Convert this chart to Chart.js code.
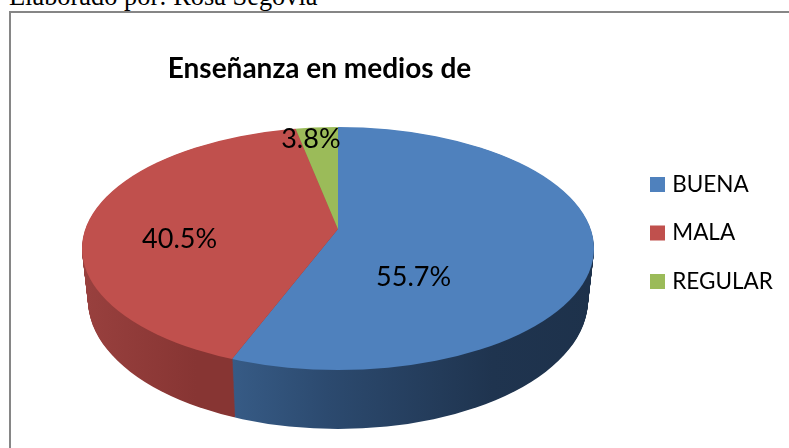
<!DOCTYPE html>
<html lang="es">
<head>
<meta charset="utf-8">
<title>Enseñanza en medios de</title>
<style>
html,body{margin:0;padding:0;background:#fff;width:789px;height:448px;overflow:hidden}
#cap{position:absolute;left:9px;top:-19px;font:26.4px "Liberation Serif",serif;color:#000;white-space:nowrap;line-height:30px}
#frame{position:absolute;left:9px;top:11px;width:780px;height:437px;border-top:2px solid #868686;border-left:2px solid #868686;box-sizing:border-box}
canvas{position:absolute;left:0;top:0}
</style>
<script src="https://cdn.jsdelivr.net/npm/chart.js@4"></script>
</head>
<body>
<div id="cap">Elaborado por: Rosa Segovia</div>
<div id="frame"></div>
<canvas id="c" width="789" height="448"></canvas>
<script>
const categories = ['BUENA', 'MALA', 'REGULAR'];
const percentages = [55.7, 40.5, 3.8];
const sliceColors = ['#4f81bd', '#c0504d', '#9bbb59'];
const chartTitle = 'Enseñanza en medios de';

const labelRadius = [0.3, 0.62, 0.89];
const labelNudge = [[0, 41], [0, 14], [0, 0]];
const FONT = 'Lato';

const sideFill = [
  [[233, '#3b628f'], [330, '#2c4a6f'], [450, '#1f344f'], [594, '#1c2f47']],
  [[82, '#a84a48'], [235, '#873533']],
  [[270, '#7a9446'], [340, '#7a9446']]
];

function withFill(arc, fill, fn) {
  const saved = arc.options;
  arc.options = Object.assign({}, saved, {backgroundColor: fill, borderWidth: 0});
  fn();
  arc.options = saved;
}

const pie3d = {
  id: 'pie3d',
  afterLayout(chart) {
    const t = chart.titleBlock;
    const h = t.height;
    t.top = 69 - h / 2; t.bottom = t.top + h;
    t.left = 19.5; t.right = 619.5;
    const l = chart.legend;
    l.left = 628; l.right = 785; l.top = 147.25; l.bottom = 448;
  },
  beforeDatasetDraw(chart, args) {
    const ctx = chart.ctx;
    const arcs = chart.getDatasetMeta(args.index).data;
    const cx = arcs[0].x, ay = arcs[0].y, R = 256;
    const grads = sideFill.map(stops => {
      const g = ctx.createLinearGradient(stops[0][0], 0, stops[stops.length - 1][0], 0);
      const a = stops[0][0], b = stops[stops.length - 1][0];
      stops.forEach(s => g.addColorStop((s[0] - a) / (b - a), s[1]));
      return g;
    });
    const placed = (apex, sx, sy, fn) => {
      ctx.translate(cx, apex); ctx.scale(sx, sy); ctx.translate(-cx, -ay); fn();
    };
    // rim: the library's arcs stacked from the lowest layer upward
    const STEPS = 70;
    for (let i = STEPS; i > 0; i--) {
      const t = i / STEPS;
      ctx.save();
      ctx.beginPath();
      ctx.ellipse(cx, 248.5 + 51.5 * t, R - 6 * t, 121.5 + 7.5 * t, 0, 0, Math.PI * 2);
      ctx.clip();
      placed(ay + 61.5 * t, 1.148 * 1.2, 0.527 * 1.2, () => {
        arcs.forEach((arc, k) => withFill(arc, grads[k], () => arc.draw(ctx)));
      });
      ctx.restore();
    }
    // top face: far half and near half have different foreshortening
    ctx.save();
    ctx.beginPath();
    ctx.ellipse(cx, 248.5, R, 121.5, 0, 0, Math.PI * 2);
    ctx.clip();
    const split = Math.round(ay);
    [[0, split, 0.69 * 1.6, 0.398 * 1.6], [split, 448 - split, 1.148 * 1.2, 0.527 * 1.2]].forEach(p => {
      ctx.save();
      ctx.beginPath();
      ctx.rect(0, p[0], 789, p[1]);
      ctx.clip();
      placed(ay, p[2], p[3], () => arcs.forEach(arc => arc.draw(ctx)));
      ctx.restore();
    });
    ctx.restore();
    return false;
  },
  afterDatasetsDraw(chart) {
    const ctx = chart.ctx;
    const arcs = chart.getDatasetMeta(0).data;
    ctx.save();
    ctx.font = '27px ' + FONT;
    ctx.fillStyle = '#000';
    ctx.textAlign = 'center';
    ctx.textBaseline = 'middle';
    arcs.forEach((arc, i) => {
      const mid = (arc.startAngle + arc.endAngle) / 2;
      const r = 256 * labelRadius[i];
      const x = arc.x + Math.cos(mid) * r + labelNudge[i][0];
      const sy = Math.sin(mid) < 0 ? 102 / 256 : 135 / 256;
      const y = arc.y + Math.sin(mid) * r * sy + labelNudge[i][1];
      ctx.fillText(percentages[i].toFixed(1) + '%', x, y);
    });
    ctx.restore();
  }
};

new Chart(document.getElementById('c'), {
  type: 'pie',
  data: {
    labels: categories,
    datasets: [{data: percentages, backgroundColor: sliceColors, borderWidth: 0}]
  },
  plugins: [pie3d],
  options: {
    responsive: false,
    animation: false,
    radius: 256,
    layout: {padding: {left: 0, right: 113, top: 0, bottom: 23.6}},
    plugins: {
      tooltip: {enabled: false},
      title: {
        display: true,
        text: chartTitle,
        color: '#000',
        padding: 0,
        font: {family: FONT, size: 28, weight: 'bold'}
      },
      legend: {
        position: 'chartArea',
        align: 'start',
        labels: {
          boxWidth: 7, boxHeight: 7, padding: 26, color: '#000',
          font: {family: FONT, size: 22.5},
          generateLabels(chart) {
            return Chart.overrides.pie.plugins.legend.labels.generateLabels(chart).map(item =>
              Object.assign(item, {lineWidth: 8, strokeStyle: item.fillStyle, lineJoin: 'miter'}));
          }
        }
      }
    }
  }
});
</script>
</body>
</html>
